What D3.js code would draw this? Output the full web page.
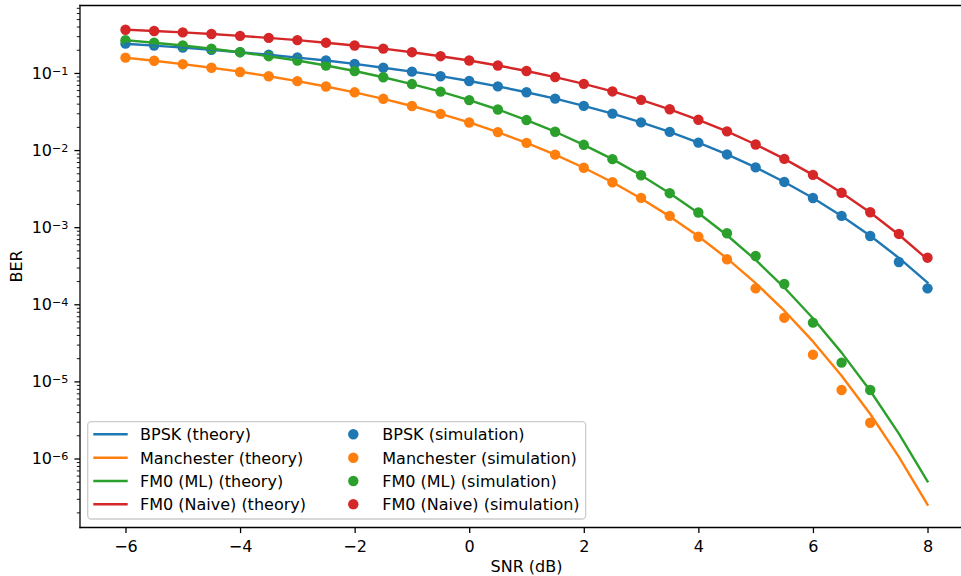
<!DOCTYPE html>
<html>
<head>
<meta charset="utf-8">
<script src="https://cdn.jsdelivr.net/npm/d3@7"></script>
<style>
  html, body { margin: 0; padding: 0; background: #fff; }
  svg { display: block; font-family: "DejaVu Sans", sans-serif; }
</style>
</head>
<body>
<svg id="chart" width="961" height="576"></svg>
<script>
// ---------------- data ----------------
const snr = [-6,-5.5,-5,-4.5,-4,-3.5,-3,-2.5,-2,-1.5,-1,-0.5,0,0.5,1,1.5,2,2.5,3,3.5,4,4.5,5,5.5,6,6.5,7,7.5,8];

const bpskTheory  = [0.239,0.226,0.213,0.200,0.186,0.172,0.158,0.145,0.131,0.117,0.104,0.0909,0.0786,0.0671,0.0563,0.0464,0.0375,0.0297,0.0229,0.0172,0.0125,0.00880,0.00595,0.00386,0.00239,0.00140,0.000773,0.000399,0.000191];
const manTheory   = [0.158,0.144,0.130,0.117,0.104,0.0907,0.0784,0.0668,0.0561,0.0462,0.0373,0.0295,0.0228,0.0171,0.0124,0.00873,0.00590,0.00383,0.00236,0.00138,0.000763,0.000393,0.000188,8.25e-5,3.30e-5,1.18e-5,3.78e-6,1.05e-6,2.53e-7];
const fm0mlTheory = [0.266,0.247,0.227,0.206,0.186,0.165,0.145,0.125,0.106,0.0881,0.0718,0.0573,0.0445,0.0336,0.0245,0.0173,0.0117,0.00763,0.00471,0.00276,0.00153,0.000786,0.000376,0.000165,6.60e-5,2.36e-5,7.56e-6,2.10e-6,5.06e-7];
const fm0nvTheory = [0.364,0.350,0.336,0.320,0.303,0.285,0.267,0.247,0.227,0.207,0.186,0.165,0.145,0.125,0.106,0.0885,0.0722,0.0576,0.0448,0.0338,0.0247,0.0175,0.0118,0.00769,0.00477,0.00280,0.00155,0.000798,0.000382];

const bpskSim  = [0.240,0.227,0.213,0.199,0.186,0.172,0.159,0.145,0.131,0.117,0.104,0.0908,0.0787,0.0670,0.0563,0.0465,0.0374,0.0297,0.0229,0.0172,0.0125,0.00878,0.00596,0.00386,0.00239,0.00140,0.000769,0.000354,0.000161];
const manSim   = [0.158,0.144,0.130,0.117,0.103,0.0906,0.0783,0.0668,0.0561,0.0462,0.0373,0.0295,0.0228,0.0171,0.0124,0.00872,0.00589,0.00382,0.00240,0.00140,0.000750,0.000384,0.000161,6.70e-5,2.22e-5,7.73e-6,2.91e-6];
const fm0mlSim = [0.266,0.247,0.227,0.206,0.186,0.165,0.145,0.125,0.106,0.0881,0.0718,0.0573,0.0445,0.0336,0.0245,0.0173,0.0117,0.00763,0.00471,0.00276,0.00155,0.000834,0.000423,0.000183,5.78e-5,1.75e-5,7.73e-6];
const fm0nvSim = [0.364,0.350,0.336,0.320,0.303,0.285,0.267,0.247,0.227,0.207,0.186,0.165,0.145,0.125,0.106,0.0885,0.0722,0.0576,0.0448,0.0338,0.0247,0.0175,0.0118,0.00769,0.00477,0.00280,0.00156,0.000817,0.000402];

const xTicks = [-6,-4,-2,0,2,4,6,8];
const yTickExps = [-6,-5,-4,-3,-2,-1];

const theoryNames = ["BPSK (theory)","Manchester (theory)","FM0 (ML) (theory)","FM0 (Naive) (theory)"];
const simNames = ["BPSK (simulation)","Manchester (simulation)","FM0 (ML) (simulation)","FM0 (Naive) (simulation)"];
const colors = ["#1f77b4","#ff7f0e","#2ca02c","#d62728"];

const theorySeries = [bpskTheory, manTheory, fm0mlTheory, fm0nvTheory];
const simSeries = [bpskSim, manSim, fm0mlSim, fm0nvSim];

// ---------------- layout ----------------
const svg = d3.select("#chart");
const L = 80, R = 973, T = 5.5, B = 527.5;
const FS = 16;
const DOT_R = 5.2;

const x = d3.scaleLinear().domain([-6.794, 8.794]).range([L, R]);
const y = d3.scaleLog().domain([Math.pow(10, -0.125), Math.pow(10, -6.895)]).range([T, B]);

svg.append("defs").append("clipPath").attr("id", "clip")
  .append("rect").attr("x", L).attr("y", T).attr("width", R - L).attr("height", B - T);

const plot = svg.append("g").attr("clip-path", "url(#clip)");

// simulation dots (drawn below lines, like matplotlib zorder)
simSeries.forEach((ser, i) => {
  plot.append("g").selectAll("circle").data(ser).join("circle")
    .attr("cx", (d, j) => x(snr[j]))
    .attr("cy", d => y(d))
    .attr("r", DOT_R)
    .attr("fill", colors[i]);
});

// theory lines
const line = d3.line().x((d, j) => x(snr[j])).y(d => y(d));
theorySeries.forEach((ser, i) => {
  plot.append("path").datum(ser)
    .attr("d", line)
    .attr("fill", "none")
    .attr("stroke", colors[i])
    .attr("stroke-width", 2.4)
    .attr("stroke-linejoin", "round")
    .attr("stroke-linecap", "square");
});

// ---------------- axes ----------------
const axisColor = "#000";
// x axis
const xAxis = svg.append("g").attr("transform", `translate(0,${B})`)
  .call(d3.axisBottom(x).tickValues(xTicks).tickSize(5.6).tickPadding(5)
    .tickFormat(d => (d < 0 ? "\u2212" + Math.abs(d) : String(d))));
xAxis.select(".domain").remove();
xAxis.selectAll(".tick line").attr("stroke", axisColor).attr("stroke-width", 1.28);
xAxis.selectAll(".tick text").attr("font-size", FS).attr("fill", "#000")
  .attr("font-family", "DejaVu Sans").attr("dy", null).attr("y", 24);

// y axis major ticks
const yAxisG = svg.append("g").attr("transform", `translate(${L},0)`);
const majorVals = yTickExps.map(e => Math.pow(10, e));
yAxisG.call(d3.axisLeft(y).tickValues(majorVals).tickSize(5.6).tickFormat(""));
yAxisG.select(".domain").remove();
yAxisG.selectAll(".tick line").attr("stroke", axisColor).attr("stroke-width", 1.28);

// y minor ticks
const minorVals = [];
for (let e = -7; e <= 0; e++) {
  for (let m = 2; m <= 9; m++) {
    const v = m * Math.pow(10, e);
    if (v <= y.domain()[0] && v >= y.domain()[1]) minorVals.push(v);
  }
}
const yMinor = svg.append("g").attr("transform", `translate(${L},0)`);
yMinor.call(d3.axisLeft(y).tickValues(minorVals).tickSize(3.2).tickFormat(""));
yMinor.select(".domain").remove();
yMinor.selectAll(".tick line").attr("stroke", axisColor).attr("stroke-width", 0.9);

// y tick labels: 10^{e}
yTickExps.forEach(e => {
  const yy = y(Math.pow(10, e));
  const t = svg.append("text")
    .attr("x", L - 11.5)
    .attr("y", yy + 6)
    .attr("text-anchor", "end")
    .attr("font-size", FS)
    .attr("fill", "#000");
  t.append("tspan").text("10");
  t.append("tspan").attr("font-size", 11.2).attr("dy", -4.2).text("\u2212" + Math.abs(e));
});

// spines
svg.append("g").selectAll("line").data([
  [L, T, L, B], [L, B, R, B], [L, T, R, T], [R, T, R, B]
]).join("line")
  .attr("x1", d => d[0]).attr("y1", d => d[1]).attr("x2", d => d[2]).attr("y2", d => d[3])
  .attr("stroke", axisColor).attr("stroke-width", 1.28).attr("stroke-linecap", "square");

// axis labels
svg.append("text").attr("x", (L + R) / 2).attr("y", 572)
  .attr("text-anchor", "middle").attr("font-size", FS).attr("fill", "#000")
  .text("SNR (dB)");
svg.append("text")
  .attr("transform", `translate(21.5,${(T + B) / 2}) rotate(-90)`)
  .attr("text-anchor", "middle").attr("font-size", FS).attr("fill", "#000")
  .text("BER");

// ---------------- legend ----------------
const lg = svg.append("g");
lg.append("rect")
  .attr("x", 87.7).attr("y", 421.7).attr("width", 498).attr("height", 97.3)
  .attr("rx", 3.5).attr("ry", 3.5)
  .attr("fill", "#fff").attr("fill-opacity", 0.8)
  .attr("stroke", "#cccccc").attr("stroke-width", 1.28);

const rowY = [434.3, 457.7, 481, 504.3];
theoryNames.forEach((name, i) => {
  lg.append("line").attr("x1", 93.3).attr("x2", 127.7)
    .attr("y1", rowY[i]).attr("y2", rowY[i])
    .attr("stroke", colors[i]).attr("stroke-width", 2.4);
  lg.append("text").attr("x", 140).attr("y", rowY[i] + 6)
    .attr("font-size", FS).attr("fill", "#000").text(name);
});
simNames.forEach((name, i) => {
  lg.append("circle").attr("cx", 353.3).attr("cy", rowY[i]).attr("r", DOT_R)
    .attr("fill", colors[i]);
  lg.append("text").attr("x", 382.3).attr("y", rowY[i] + 6)
    .attr("font-size", FS).attr("fill", "#000").text(name);
});
</script>
</body>
</html>
